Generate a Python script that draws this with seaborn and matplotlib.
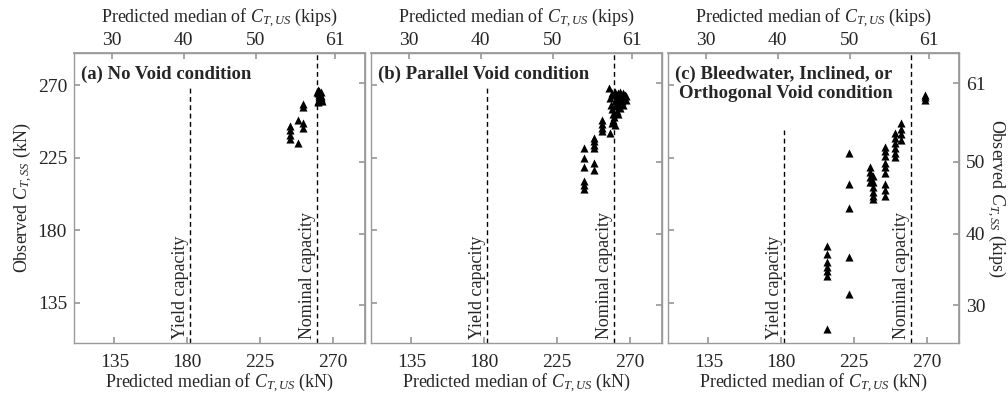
import numpy as np
import pandas as pd
import matplotlib
matplotlib.use("Agg")
import matplotlib.pyplot as plt
import seaborn as sns

# ---------------- data (kN) ----------------
a_pred = [251.7, 251.7, 248.6, 251.7, 251.7, 243.5, 243.5, 243.5, 243.5, 248.6,
          260.5, 261.0, 261.5, 262.0, 262.5, 263.0, 261.0, 262.0, 263.0, 261.5,
          262.5, 260.8, 261.8, 262.8, 263.3, 261.2, 262.2]
a_obs = [258.5, 256.5, 248.6, 246.6, 243.5, 244.5, 242.0, 239.4, 236.7, 234.2,
         266.0, 265.0, 264.0, 263.0, 262.0, 261.0, 260.0, 264.5, 263.5, 262.5,
         261.5, 267.0, 266.5, 265.5, 260.5, 259.5, 263.0]

b_pred = [241.6, 241.6, 241.6, 241.6, 241.6, 241.6,
          247.8, 247.8, 247.8, 247.8, 247.8, 247.8,
          252.6, 252.6, 252.6, 252.6,
          257.7, 258.8, 259.8, 260.8,
          257.5, 258.0, 258.5, 259.0, 259.5, 260.0, 260.5, 261.0, 261.5, 262.0,
          262.0, 262.5, 263.0, 263.5, 264.0, 264.5, 265.0, 265.5, 266.0, 266.5,
          267.0, 267.5, 268.0, 263.0, 261.0, 264.0, 259.0, 266.0]
b_obs = [231.0, 225.0, 219.0, 210.5, 208.0, 205.5,
         237.3, 235.2, 233.1, 231.0, 221.8, 217.3,
         248.6, 246.1, 243.5, 241.4,
         240.4, 246.6, 248.6, 245.5,
         268.0, 262.0, 258.0, 255.0, 252.0, 250.5, 264.0, 260.0, 257.0, 262.0,
         254.0, 265.0, 259.0, 262.0, 256.0, 264.0, 260.0, 263.0, 258.0, 262.0,
         264.0, 261.0, 263.0, 252.0, 266.0, 266.0, 265.0, 265.0]

c_pred = [208.1, 208.1, 208.1, 208.1, 208.1, 208.1, 208.1,
          221.9, 221.9, 221.9, 221.9, 221.9,
          234.8, 234.8, 234.8, 234.8,
          236.7, 236.7, 236.7, 236.7, 236.7, 236.7,
          244.1, 244.1, 244.1, 244.1, 244.1, 244.1, 244.1, 244.1, 244.1,
          250.3, 250.3, 250.3, 250.3, 250.3, 250.3,
          254.4, 254.4, 254.4, 254.4,
          268.8, 268.8, 268.8]
c_obs = [170.3, 165.2, 160.0, 157.0, 154.5, 151.7, 118.8,
         228.0, 208.4, 194.0, 163.1, 140.4,
         219.5, 216.0, 213.0, 210.0,
         213.4, 210.0, 207.0, 204.0, 201.0, 199.1,
         231.9, 229.0, 226.0, 222.0, 219.0, 215.8, 208.4, 205.0, 201.0,
         240.6, 237.0, 234.0, 231.0, 228.0, 225.7,
         246.7, 243.0, 240.0, 236.2,
         264.0, 262.5, 261.0]

titles = ["(a) No Void condition", "(b) Parallel Void condition",
          "(c) Bleedwater, Inclined, or\nOrthogonal Void condition"]
yield_cap = 182.0
nominal_cap = 260.4
kn_ticks = [135, 180, 225, 270]
kip_ticks = [30, 40, 50, 61]
KN_PER_KIP = 4.448

# ---------------- style ----------------
sns.set_theme(style="white")
plt.rcParams["font.family"] = ["Liberation Serif", "DejaVu Serif"]
plt.rcParams["mathtext.fontset"] = "custom"
plt.rcParams["mathtext.rm"] = "Liberation Serif"
plt.rcParams["mathtext.it"] = "Liberation Serif:italic"
plt.rcParams["mathtext.bf"] = "Liberation Serif:bold"

FS = 13
TFS = 14
FRAME = "#9a9a9a"

fig = plt.figure(figsize=(10.08, 3.95), dpi=100)
lefts = [74, 371, 668]
W, H = 1008, 395
ax_w, ax_h = 291, 290
ax_bottom = 395 - 343

datasets = [(a_pred, a_obs), (b_pred, b_obs), (c_pred, c_obs)]
yield_tops = [0.879, 0.879, 0.734]

to_kip = lambda v: np.asarray(v) / KN_PER_KIP
to_kn = lambda v: np.asarray(v) * KN_PER_KIP

for i, (lx, (xs, ys)) in enumerate(zip(lefts, datasets)):
    ax = fig.add_axes([lx / W, ax_bottom / H, ax_w / W, ax_h / H])
    df = pd.DataFrame({"pred": xs, "obs": ys})
    sns.scatterplot(data=df, x="pred", y="obs", marker="^", color="black",
                    s=34, linewidth=0, ax=ax, zorder=3, legend=False)
    ax.set_xlim(110, 290)
    ax.set_ylim(110, 290)
    ax.axvline(yield_cap, ymin=0, ymax=yield_tops[i], color="black",
               lw=1.0, ls=(0, (3.5, 2.5)), zorder=2)
    ax.axvline(nominal_cap, color="black", lw=1.0, ls=(0, (3.5, 2.5)), zorder=2)
    tr = ax.get_xaxis_transform()
    ax.text(yield_cap - 1.0, 0.015, "Yield capacity", rotation=90, ha="right",
            va="bottom", transform=tr, fontsize=FS)
    ax.text(nominal_cap - 1.0, 0.015, "Nominal capacity", rotation=90, ha="right",
            va="bottom", transform=tr, fontsize=FS)
    ax.text(0.025, 0.955, titles[i], transform=ax.transAxes, ha="left", va="top",
            fontsize=13.5, fontweight="bold", multialignment="right",
            linespacing=1.1, zorder=4)

    ax.set_xticks(kn_ticks)
    ax.set_yticks(kn_ticks)
    ax.tick_params(axis="both", direction="in", length=4, color=FRAME,
                   labelsize=TFS, left=True, bottom=True)
    ax.tick_params(axis="x", pad=8)
    ax.tick_params(axis="y", pad=5)
    if i > 0:
        ax.tick_params(axis="y", labelleft=False)
        ax.set_ylabel("")
    else:
        ax.set_ylabel(r"Observed $C_{T,SS}$ (kN)", fontsize=FS, labelpad=3)
    ax.set_xlabel(r"Predicted median of $C_{T,US}$ (kN)", fontsize=FS, labelpad=0)
    for sp in ax.spines.values():
        sp.set_color(FRAME)
        sp.set_linewidth(1.0)

    secx = ax.secondary_xaxis("top", functions=(to_kip, to_kn))
    secx.set_xticks(kip_ticks)
    secx.tick_params(direction="in", length=4, color=FRAME, labelsize=TFS, pad=3)
    secx.set_xlabel(r"Predicted median of $C_{T,US}$ (kips)", fontsize=FS, labelpad=7)
    secx.spines["top"].set_color(FRAME)

    secy = ax.secondary_yaxis("right", functions=(to_kip, to_kn))
    secy.set_yticks(kip_ticks)
    secy.tick_params(direction="in", length=4, color=FRAME, labelsize=TFS, pad=5)
    secy.spines["right"].set_color(FRAME)
    if i < 2:
        secy.tick_params(labelright=False)
    else:
        secy.set_ylabel(r"Observed $C_{T,SS}$ (kips)", fontsize=FS, rotation=270,
                        labelpad=16)

fig.savefig("out.png", dpi=100)
